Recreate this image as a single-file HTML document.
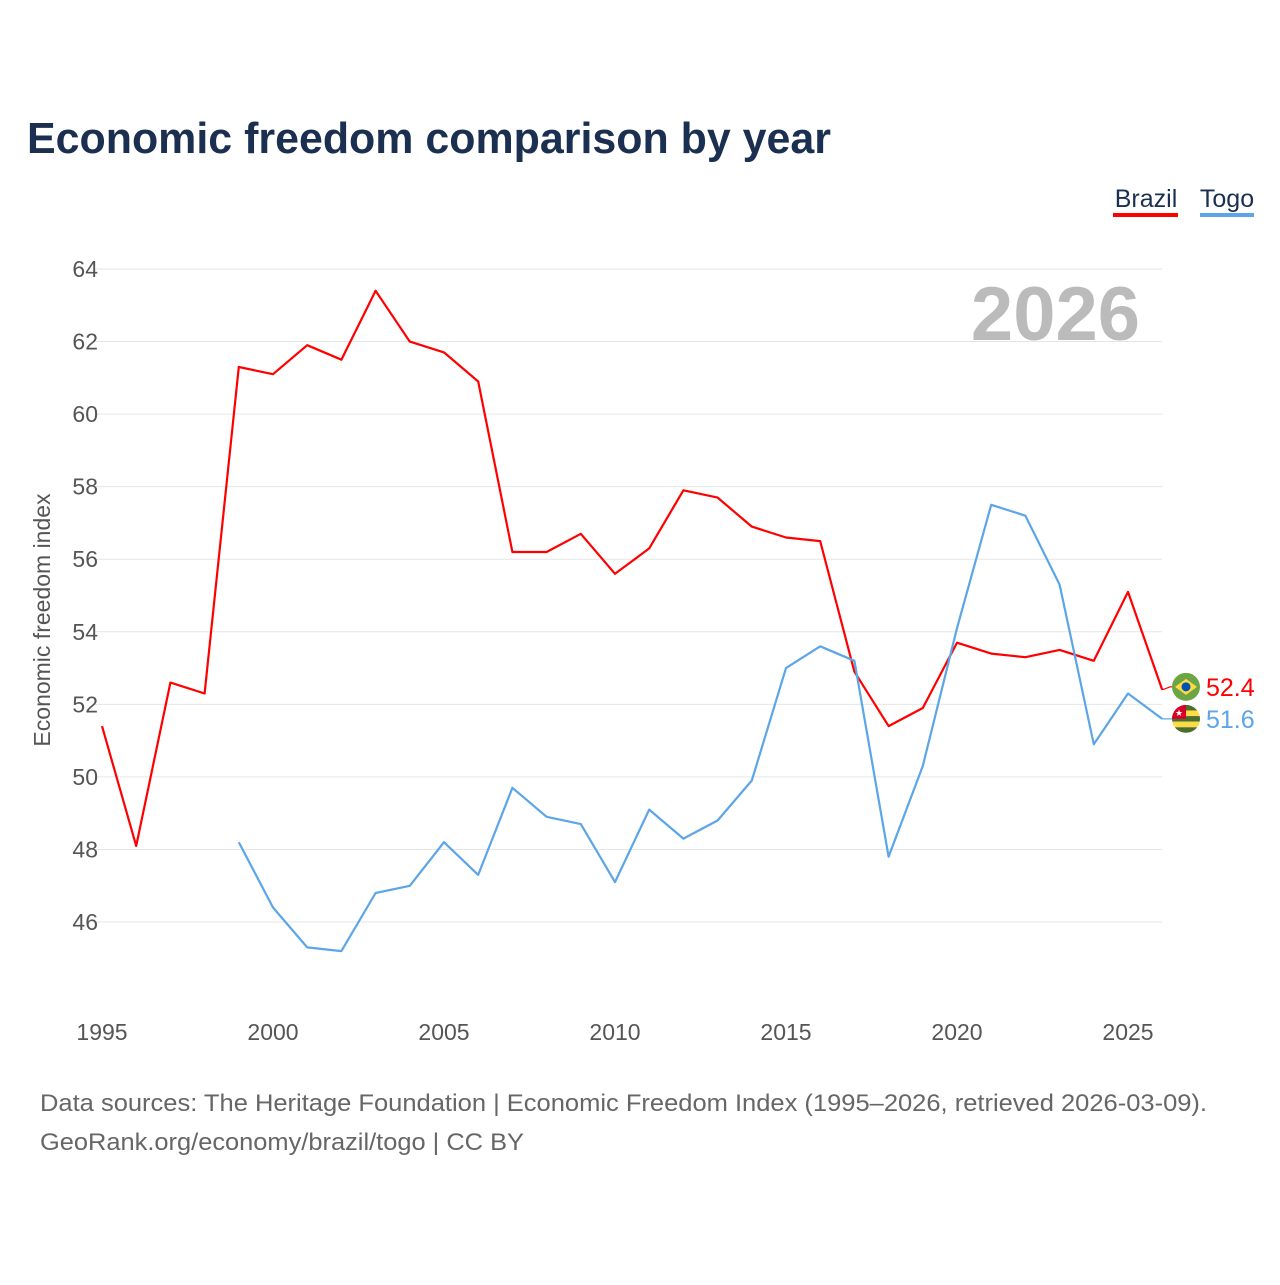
<!DOCTYPE html>
<html><head><meta charset="utf-8"><style>
body{margin:0;background:#fff;font-family:"Liberation Sans",sans-serif;}
#wrap{position:relative;width:1280px;height:1280px;}
</style></head><body>
<div id="wrap">
<svg id="svg" width="1280" height="1280" xmlns="http://www.w3.org/2000/svg">
<text x="27" y="153" font-size="44" font-weight="bold" fill="#1b2f50" textLength="804" lengthAdjust="spacingAndGlyphs">Economic freedom comparison by year</text>
<g>
<text x="1146" y="207" font-size="25" fill="#1b2f50" text-anchor="middle">Brazil</text>
<rect x="1113" y="213" width="65" height="4" fill="#ff0000"/>
<text x="1227" y="207" font-size="25" fill="#1b2f50" text-anchor="middle">Togo</text>
<rect x="1200" y="213" width="54" height="4" fill="#5ba5e8"/>
</g>
<text x="1140" y="340" font-size="76" font-weight="bold" fill="#bbbbbb" text-anchor="end">2026</text>
<g id="grid"></g><g id="lines"></g>
<text transform="translate(50,620) rotate(-90)" font-size="23" fill="#555" text-anchor="middle">Economic freedom index</text>
<text x="40" y="1111" font-size="24" fill="#666" textLength="1167" lengthAdjust="spacingAndGlyphs">Data sources: The Heritage Foundation | Economic Freedom Index (1995–2026, retrieved 2026-03-09).</text>
<text x="40" y="1150" font-size="24" fill="#666" textLength="484" lengthAdjust="spacingAndGlyphs">GeoRank.org/economy/brazil/togo | CC BY</text>
</svg></div>
<script>
const years=[1995,1996,1997,1998,1999,2000,2001,2002,2003,2004,2005,2006,2007,2008,2009,2010,2011,2012,2013,2014,2015,2016,2017,2018,2019,2020,2021,2022,2023,2024,2025,2026];
const brazil=[51.4,48.1,52.6,52.3,61.3,61.1,61.9,61.5,63.4,62.0,61.7,60.9,56.2,56.2,56.7,55.6,56.3,57.9,57.7,56.9,56.6,56.5,52.9,51.4,51.9,53.7,53.4,53.3,53.5,53.2,55.1,52.4];
const togo=[null,null,null,null,48.2,46.4,45.3,45.2,46.8,47.0,48.2,47.3,49.7,48.9,48.7,47.1,49.1,48.3,48.8,49.9,53.0,53.6,53.2,47.8,50.3,54.1,57.5,57.2,55.3,50.9,52.3,51.6];
const yTicks=[46,48,50,52,54,56,58,60,62,64];
const xTicks=[1995,2000,2005,2010,2015,2020,2025];
const NS="http://www.w3.org/2000/svg";
const X=v=>102+(v-1995)*34.2;
const Y=v=>269+(64-v)*36.28;
function mk(t,a,p){const e=document.createElementNS(NS,t);for(const k in a)e.setAttribute(k,a[k]);p.appendChild(e);return e;}
const grid=document.getElementById('grid'),lines=document.getElementById('lines');
yTicks.forEach(v=>{
const l=mk('line',{x1:95,x2:1162,y1:Y(v),y2:Y(v),stroke:'#e6e6e6','stroke-width':1},grid);

const t=mk('text',{x:98,y:Y(v)+8,'font-size':23,fill:'#555','text-anchor':'end'},grid);t.textContent=v;

});
xTicks.forEach(v=>{
const t=mk('text',{x:X(v),y:1040,'font-size':23,fill:'#555','text-anchor':'middle'},grid);t.textContent=v;

});
function series(vals,col,name){
let d='';vals.forEach((v,i)=>{if(v==null)return;d+=(d?'L':'M')+X(years[i]).toFixed(1)+','+Y(v).toFixed(1);});
const p=mk('path',{d:d,fill:'none',stroke:col,'stroke-width':2.2,'stroke-linejoin':'round'},lines);

}
series(brazil,'#ff0000','brazil');series(togo,'#5ba5e8','togo');
function endLabel(v,col,name,dy){
const x=X(2026),y=Y(v),fy=y+dy;
mk('polyline',{points:`${x},${y} ${x+8},${fy} ${x+12},${fy}`,fill:'none',stroke:col,'stroke-width':1.2},lines);
const c=mk('g',{},lines);
if(name==='brazil'){
mk('circle',{cx:1186,cy:fy,r:14,fill:'#6da544'},c);
mk('polygon',{points:`1175,${fy} 1186,${fy-8} 1197,${fy} 1186,${fy+8}`,fill:'#ffda44'},c);
mk('circle',{cx:1186,cy:fy,r:4.5,fill:'#0052b4'},c);
}else{
const cp=mk('clipPath',{id:'tc'},c);mk('circle',{cx:1186,cy:fy,r:14},cp);
const g=mk('g',{'clip-path':'url(#tc)'},c);
for(let i=0;i<5;i++)mk('rect',{x:1172,y:fy-14+i*5.6,width:28,height:5.6,fill:i%2?'#ffda44':'#496e2d'},g);
mk('rect',{x:1172,y:fy-14,width:14,height:14,fill:'#d80027'},g);
mk('text',{x:1179,y:fy-3,'font-size':9,fill:'#fff','text-anchor':'middle'},g).textContent='★';
}
const t=mk('text',{x:1206,y:fy+9,'font-size':25,fill:col},lines);t.textContent=v;

}
endLabel(brazil[brazil.length-1],'#ff0000','brazil',-3);
endLabel(togo[togo.length-1],'#5ba5e8','togo',0);
</script>
</body></html>
